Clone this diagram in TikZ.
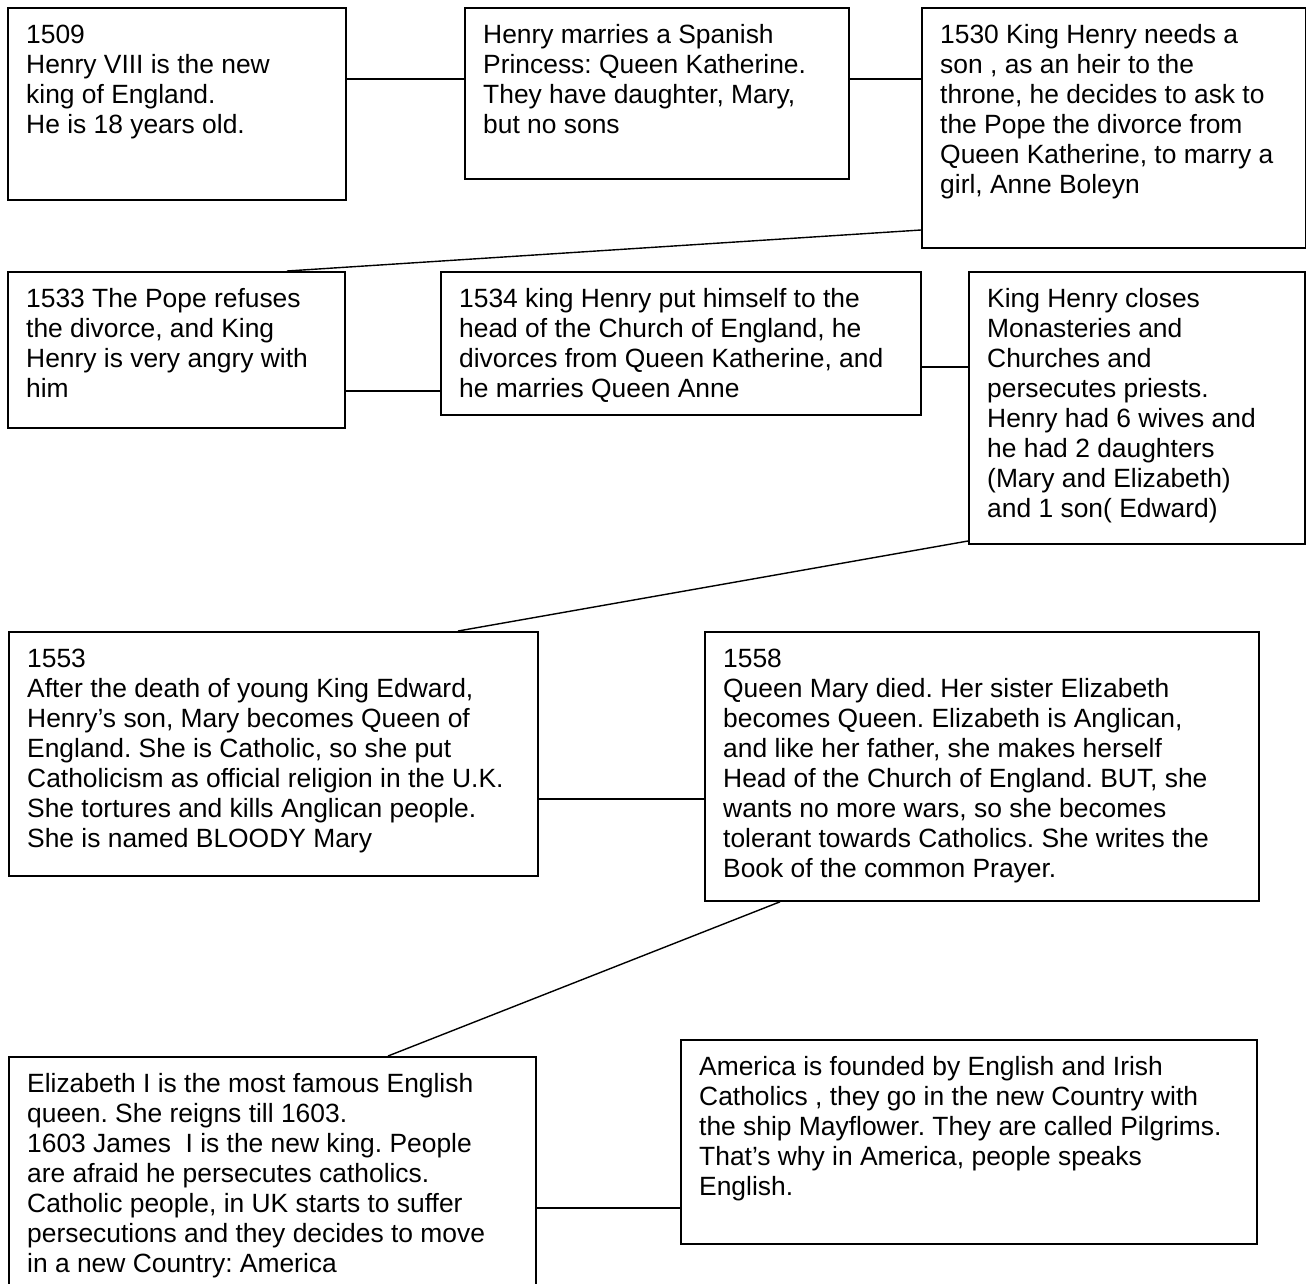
\documentclass[tikz,border=0pt]{standalone}
\usepackage{fontspec}
\setmainfont{Liberation Sans}
\usetikzlibrary{calc}
\frenchspacing
\newcommand{\firstline}{\rule{0pt}{22pt}}
\tikzset{
  box/.style={draw=black, line width=1.8pt, inner sep=0pt, anchor=north west},
  txt/.style={anchor=north west, inner sep=0pt, align=left,
              font=\fontsize{26.4}{30}\selectfont},
  link/.style={draw=black, line width=1.4pt},
}
\begin{document}
\begin{tikzpicture}[x=1pt, y=-1pt]
\useasboundingbox (0,0) rectangle (1306,1283);
\fill[white] (0,0) rectangle (1306,1283);

% boxes
\node[box, minimum width=338pt, minimum height=192pt] (b1) at (7,7) {};
\node[box, minimum width=384pt, minimum height=171pt] (b2) at (464,7) {};
\node[box, minimum width=384pt, minimum height=240pt] (b3) at (921,7) {};
\node[box, minimum width=337pt, minimum height=156pt] (b4) at (7,271) {};
\node[box, minimum width=480pt, minimum height=143pt] (b5) at (440,271) {};
\node[box, minimum width=336pt, minimum height=272pt] (b6) at (968,271) {};
\node[box, minimum width=529pt, minimum height=244pt] (b7) at (8,631) {};
\node[box, minimum width=554pt, minimum height=269pt] (b8) at (704,631) {};
\node[box, minimum width=527pt, minimum height=250pt] (b9) at (8,1056) {};
\node[box, minimum width=576pt, minimum height=204pt] (b10) at (680,1039) {};

% texts
\node[txt] (t1) at ($(b1.north west)+(19,14)$) {\firstline 1509\\Henry VIII is the new\\king of England.\\He is 18 years old.};
\node[txt] (t2) at ($(b2.north west)+(19,14)$) {\firstline Henry marries a Spanish\\Princess: Queen Katherine.\\They have daughter, Mary,\\but no sons};
\node[txt] (t3) at ($(b3.north west)+(19,14)$) {\firstline 1530 King Henry needs a\\son , as an heir to the\\throne, he decides to ask to\\the Pope the divorce from\\Queen Katherine, to marry a\\girl, Anne Boleyn};
\node[txt] (t4) at ($(b4.north west)+(19,14)$) {\firstline 1533 The Pope refuses\\the divorce, and King\\Henry is very angry with\\him};
\node[txt] (t5) at ($(b5.north west)+(19,14)$) {\firstline 1534 king Henry put himself to the\\head of the Church of England, he\\divorces from Queen Katherine, and\\he marries Queen Anne};
\node[txt] (t6) at ($(b6.north west)+(19,14)$) {\firstline King Henry closes\\Monasteries and\\Churches and\\persecutes priests.\\Henry had 6 wives and\\he had 2 daughters\\(Mary and Elizabeth)\\and 1 son( Edward)};
\node[txt] (t7) at ($(b7.north west)+(19,14)$) {\firstline 1553\\After the death of young King Edward,\\Henry’s son, Mary becomes Queen of\\England. She is Catholic, so she put\\Catholicism as official religion in the U.K.\\She tortures and kills Anglican people.\\She is named BLOODY Mary};
\node[txt] (t8) at ($(b8.north west)+(19,14)$) {\firstline 1558\\Queen Mary died. Her sister Elizabeth\\becomes Queen. Elizabeth is Anglican,\\and like her father, she makes herself\\Head of the Church of England. BUT, she\\wants no more wars, so she becomes\\tolerant towards Catholics. She writes the\\Book of the common Prayer.};
\node[txt] (t9) at ($(b9.north west)+(19,14)$) {\firstline Elizabeth I is the most famous English\\queen. She reigns till 1603.\\1603 James~~I is the new king. People\\are afraid he persecutes catholics.\\Catholic people, in UK starts to suffer\\persecutions and they decides to move\\in a new Country: America};
\node[txt] (t10) at ($(b10.north west)+(19,14)$) {\firstline America is founded by English and Irish\\Catholics , they go in the new Country with\\the ship Mayflower. They are called Pilgrims.\\That’s why in America, people speaks\\English.};

% connector levels
\coordinate (r1) at (0,79);
\coordinate (r3a) at (0,230);
\coordinate (r3b) at (287,0);
\coordinate (r4) at (0,391);
\coordinate (r5) at (0,367);
\coordinate (r6a) at (0,541);
\coordinate (r6b) at (458,0);
\coordinate (r7) at (0,799);
\coordinate (r8a) at (780,0);
\coordinate (r8b) at (388,0);
\coordinate (r9) at (0,1208);

% connectors
\draw[link] (b1.east |- r1) -- (b2.west |- r1);
\draw[link] (b2.east |- r1) -- (b3.west |- r1);
\draw[link] (b3.west |- r3a) -- (b4.north -| r3b);
\draw[link] (b4.east |- r4) -- (b5.west |- r4);
\draw[link] (b5.east |- r5) -- (b6.west |- r5);
\draw[link] (b6.west |- r6a) -- (b7.north -| r6b);
\draw[link] (b7.east |- r7) -- (b8.west |- r7);
\draw[link] (b8.south -| r8a) -- (b9.north -| r8b);
\draw[link] (b9.east |- r9) -- (b10.west |- r9);
\end{tikzpicture}
\end{document}
